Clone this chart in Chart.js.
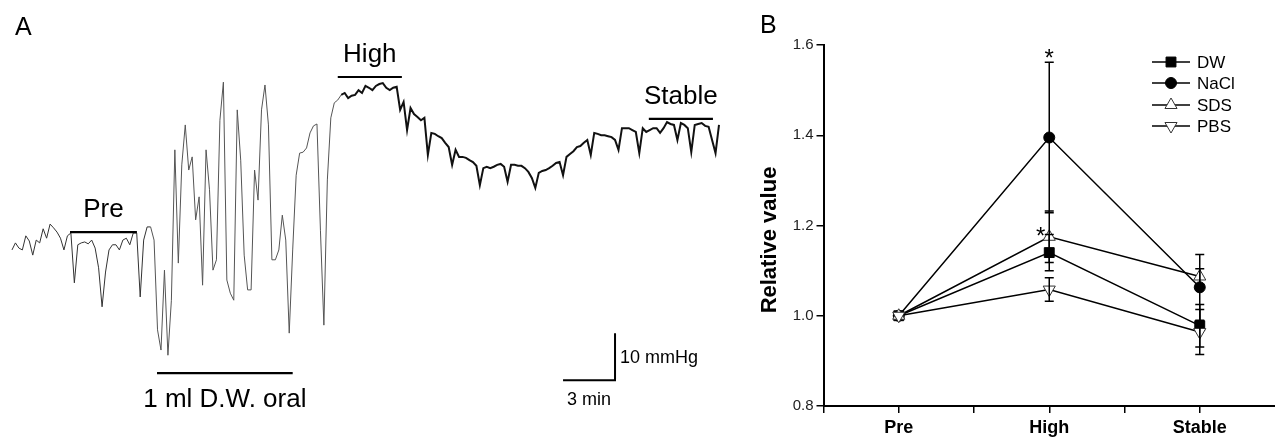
<!DOCTYPE html>
<html><head><meta charset="utf-8">
<script src="https://cdn.jsdelivr.net/npm/chart.js@4.4.0/dist/chart.umd.min.js"></script>
<style>
html,body{margin:0;padding:0;background:#fff;width:1275px;height:437px;overflow:hidden}
#wrapA{position:absolute;left:0;top:0;width:745px;height:437px}
#wrapB{position:absolute;left:745px;top:0;width:530px;height:437px}
canvas{display:block}
</style></head><body>
<div id="wrapA"><canvas id="cA" width="745" height="437"></canvas></div>
<div id="wrapB"><canvas id="cB" width="530" height="437"></canvas></div>
<script>
const FONT = '"Liberation Sans", Arial, Helvetica, sans-serif';

// ---------- Panel A: pressure trace (mmHg), one sample every 0.2 min ----------
const traceStepMin = 0.2;
const tracePressure = [
 39.8,41.3,40.2,39.8,42.8,41.7,38.7,41.9,41.3,44.3,42.3,45.3,44.5,43.6,42.3,39.8,42.8,43.4,32.8,40.9,
 41.3,41.5,41.1,41.9,40.2,36.0,27.7,35.1,39.8,40.9,40.9,39.8,41.9,42.3,40.9,43.4,43.4,29.8,41.9,44.7,
 44.7,41.9,22.8,18.5,35.5,17.4,29.1,61.1,37.0,57.9,66.4,56.8,59.6,46.2,51.1,32.3,61.1,52.6,35.5,37.7,
 67.4,75.5,33.4,30.6,29.1,69.6,58.9,38.7,31.3,31.3,56.8,50.4,69.6,74.9,66.4,37.7,37.7,39.8,47.2,41.9,
 22.1,39.8,55.7,60.4,60.6,61.5,64.7,66.2,66.6,44.0,23.8,54.7,67.9,71.1,71.7,72.8,73.2,72.1,72.6,72.8,
 73.8,73.2,74.7,74.3,73.8,74.7,75.1,75.3,74.3,73.8,74.3,74.5,69.6,71.3,65.3,70.0,68.7,68.1,67.4,67.9,
 60.0,64.7,64.5,64.0,63.6,62.6,61.7,57.9,61.1,59.6,59.6,59.4,58.9,58.5,57.7,53.6,57.2,57.5,57.2,57.5,
 57.9,58.1,57.5,54.3,57.9,57.9,57.7,57.7,57.2,56.4,55.1,53.0,56.2,56.6,56.8,57.2,57.7,58.3,58.5,55.7,
 59.6,60.2,60.8,61.7,61.9,62.6,63.2,60.0,64.7,64.5,64.2,64.2,64.0,63.8,63.2,61.1,65.7,65.7,65.7,65.3,
 64.9,60.4,65.7,64.9,65.3,65.7,65.7,64.7,65.7,67.0,66.6,66.4,63.2,66.8,66.4,65.7,60.6,66.4,66.6,66.8,
 66.2,66.0,63.2,60.4,66.4
];
const periodLabels = ['Pre', 'High', 'Stable', '1 ml D.W. oral'];
const periodStart  = [3.35, 18.8, 36.75, 8.37];   // min
const periodEnd    = [7.21, 22.5, 40.45, 16.2];   // min
const scaleBarTime = 3;     // min
const scaleBarPress = 10;   // mmHg

// annotation placement (layout only)
const periodLevel = [43.6, 76.6, 67.7, 13.6];   // mmHg level of each bar
const periodSide  = ['above','above','above','below'];
const scaleBarOrigin = {t: 31.8, p: 12.1};

const traceData = tracePressure.map((p, i) => ({x: +(i * traceStepMin).toFixed(2), y: p}));

const annotA = {
  id: 'annotA',
  afterDatasetsDraw(chart) {
    const xs = chart.scales.x, ys = chart.scales.y, ctx = chart.ctx;
    ctx.save();
    ctx.strokeStyle = '#000'; ctx.fillStyle = '#000'; ctx.lineWidth = 2.2;
    ctx.textAlign = 'center'; ctx.textBaseline = 'alphabetic';
    ctx.font = '26px ' + FONT;
    periodLabels.forEach((lab, i) => {
      const x0 = xs.getPixelForValue(periodStart[i]), x1 = xs.getPixelForValue(periodEnd[i]);
      const y = ys.getPixelForValue(periodLevel[i]);
      ctx.beginPath(); ctx.moveTo(x0, y); ctx.lineTo(x1, y); ctx.stroke();
      const cy = periodSide[i] === 'above' ? y - 24 : y + 24.5;
      ctx.fillText(lab, (x0 + x1) / 2, cy + 0.358 * 26);
    });
    // scale bar
    const sx0 = xs.getPixelForValue(scaleBarOrigin.t), sx1 = xs.getPixelForValue(scaleBarOrigin.t + scaleBarTime);
    const sy0 = ys.getPixelForValue(scaleBarOrigin.p), sy1 = ys.getPixelForValue(scaleBarOrigin.p + scaleBarPress);
    ctx.lineWidth = 2;
    ctx.beginPath(); ctx.moveTo(sx0, sy0); ctx.lineTo(sx1, sy0); ctx.lineTo(sx1, sy1); ctx.stroke();
    ctx.font = '18px ' + FONT;
    ctx.textAlign = 'center';
    ctx.fillText(scaleBarTime + ' min', (sx0 + sx1) / 2, sy0 + 18.5 + 0.358 * 18);
    ctx.textAlign = 'left';
    ctx.fillText(scaleBarPress + ' mmHg', sx1 + 5, (sy0 + sy1) / 2 + 0.358 * 18);
    // panel letter
    ctx.font = '25px ' + FONT;
    ctx.fillText('A', 15, 35);
    ctx.restore();
  }
};

new Chart(document.getElementById('cA'), {
  type: 'line',
  data: { datasets: [{
    data: traceData, borderColor: '#3c3c3c', borderWidth: 1, pointRadius: 0, tension: 0,
    segment: {
      borderWidth: c => (c.p0.parsed.x >= 19 ? 2.0 : 1),
      borderColor: c => (c.p0.parsed.x >= 19 ? '#111' : (c.p0.parsed.x < 8 ? '#333' : '#555'))
    }
  }]},
  options: {
    responsive: false, animation: false, events: [],
    layout: { padding: 0 },
    plugins: { legend: { display: false }, tooltip: { enabled: false } },
    scales: {
      x: { type: 'linear', display: false, min: -0.69, max: 42.3 },
      y: { type: 'linear', display: false, min: 0, max: 92.98 }
    }
  },
  plugins: [annotA]
});

// ---------- Panel B: relative values ----------
const categories = ['Pre', 'High', 'Stable'];
const seriesNames = ['DW', 'NaCl', 'SDS', 'PBS'];
const dwValues   = [1.0, 1.14, 0.978];
const naclValues = [1.0, 1.395, 1.063];
const sdsValues  = [1.0, 1.175, 1.087];
const pbsValues  = [1.0, 1.058, 0.964];
const dwErr   = [0, 0.04, 0.047];
const naclErr = [0, 0.167, 0.073];
const sdsErr  = [0, 0.057, 0.017];
const pbsErr  = [0, 0.026, 0.05];
const yTicks = [0.8, 1.0, 1.2, 1.4, 1.6];
const significance = [ {series: 'NaCl', cat: 1, where: 'top'}, {series: 'SDS', cat: 1, where: 'left'} ];

const seriesValues = [dwValues, naclValues, sdsValues, pbsValues];
const seriesErr = [dwErr, naclErr, sdsErr, pbsErr];
const markerStyle = [
  {pointStyle: 'rect', radius: 7, rotation: 0, fill: '#000', stroke: '#000'},
  {pointStyle: 'circle', radius: 5.5, rotation: 0, fill: '#000', stroke: '#000'},
  {pointStyle: 'triangle', radius: 7, rotation: 0, fill: '#fff', stroke: '#333'},
  {pointStyle: 'triangle', radius: 7, rotation: 180, fill: '#fff', stroke: '#333'}
];
const drawOrder = [3, 2, 1, 0];

const datasetsB = seriesNames.map((name, s) => ({
  label: name,
  data: seriesValues[s].map((v, i) => ({x: i, y: v})),
  borderColor: '#000', borderWidth: 1.5, tension: 0, fill: false,
  pointStyle: markerStyle[s].pointStyle, pointRadius: markerStyle[s].radius,
  pointRotation: markerStyle[s].rotation,
  pointBackgroundColor: markerStyle[s].fill, pointBorderColor: markerStyle[s].stroke,
  pointBorderWidth: 1, order: drawOrder[s]
}));

const extrasB = {
  id: 'extrasB',
  afterDatasetsDraw(chart) {
    const xs = chart.scales.x, ys = chart.scales.y, ctx = chart.ctx;
    ctx.save();
    // error bars
    ctx.strokeStyle = '#000'; ctx.lineWidth = 1.5;
    seriesValues.forEach((vals, s) => {
      vals.forEach((v, i) => {
        const e = seriesErr[s][i];
        if (!e) return;
        const x = xs.getPixelForValue(i);
        const yt = ys.getPixelForValue(v + e), yb = ys.getPixelForValue(v - e);
        ctx.beginPath();
        ctx.moveTo(x, yt); ctx.lineTo(x, yb);
        ctx.moveTo(x - 4.5, yt); ctx.lineTo(x + 4.5, yt);
        ctx.moveTo(x - 4.5, yb); ctx.lineTo(x + 4.5, yb);
        ctx.stroke();
      });
    });
    // significance stars
    ctx.fillStyle = '#000'; ctx.font = '24px ' + FONT; ctx.textAlign = 'center'; ctx.textBaseline = 'alphabetic';
    significance.forEach(sg => {
      const s = seriesNames.indexOf(sg.series);
      const v = seriesValues[s][sg.cat], e = seriesErr[s][sg.cat];
      const x = xs.getPixelForValue(sg.cat);
      let cx, cy;
      if (sg.where === 'top') { cx = x; cy = ys.getPixelForValue(v + e) - 10; }
      else { cx = x - 8.5; cy = ys.getPixelForValue(v) - 7; }
      ctx.fillText('*', cx, cy + 0.58 * 24);
    });
    // legend
    const lx0 = 407, lx1 = 445, lm = 426, tx = 452, rows = [62, 83, 105, 126];
    ctx.font = '17px ' + FONT; ctx.textAlign = 'left';
    seriesNames.forEach((name, s) => {
      const y = rows[s];
      ctx.strokeStyle = '#000'; ctx.lineWidth = 1.5;
      ctx.beginPath(); ctx.moveTo(lx0, y); ctx.lineTo(lx1, y); ctx.stroke();
      ctx.fillStyle = markerStyle[s].fill; ctx.strokeStyle = markerStyle[s].stroke; ctx.lineWidth = 1;
      Chart.helpers.drawPoint(ctx, {pointStyle: markerStyle[s].pointStyle, radius: markerStyle[s].radius,
        rotation: markerStyle[s].rotation, borderWidth: 1}, lm, y);
      ctx.fillStyle = '#000';
      ctx.fillText(name, tx, y + 0.358 * 17);
    });
    // axis title
    ctx.save();
    ctx.translate(25, 240); ctx.rotate(-Math.PI / 2);
    ctx.font = 'bold 22px ' + FONT; ctx.textAlign = 'center'; ctx.textBaseline = 'middle';
    ctx.fillText('Relative value', 0, 0);
    ctx.restore();
    // panel letter
    ctx.font = '25px ' + FONT; ctx.textAlign = 'left'; ctx.fillStyle = '#000';
    ctx.fillText('B', 15, 33);
    ctx.restore();
  }
};

new Chart(document.getElementById('cB'), {
  type: 'line',
  data: { datasets: datasetsB },
  options: {
    responsive: false, animation: false, events: [],
    layout: { autoPadding: false, padding: { top: 45, right: 0, left: 0, bottom: 0 } },
    plugins: { legend: { display: false }, tooltip: { enabled: false } },
    scales: {
      x: {
        type: 'linear', min: -0.5, max: 2.5,
        afterBuildTicks: sc => { sc.ticks = [-0.5, 0, 0.5, 1, 1.5, 2].map(v => ({value: v})); },
        afterFit: sc => { sc.height = 31; sc.paddingLeft = 0; sc.paddingRight = 0; },
        grid: { display: true, drawOnChartArea: false, drawTicks: true, tickLength: 7, color: '#000', lineWidth: 1.5 },
        border: { display: true, color: '#000', width: 2 },
        ticks: {
          autoSkip: false, maxRotation: 0, padding: 4, color: '#000',
          font: { family: FONT, size: 18, weight: 'bold' },
          callback: v => (Number.isInteger(v) ? categories[v] : '')
        }
      },
      y: {
        type: 'linear', min: 0.8, max: 1.6,
        afterBuildTicks: sc => { sc.ticks = yTicks.map(v => ({value: v})); },
        afterFit: sc => { sc.width = 78.5; sc.paddingTop = 0; sc.paddingBottom = 0; },
        grid: { display: true, drawOnChartArea: false, drawTicks: true, tickLength: 7, color: '#000', lineWidth: 1.5 },
        border: { display: true, color: '#000', width: 2 },
        ticks: { padding: 3, color: '#222', font: { family: FONT, size: 15 }, callback: v => v.toFixed(1) }
      }
    }
  },
  plugins: [extrasB]
});
</script>
</body></html>
